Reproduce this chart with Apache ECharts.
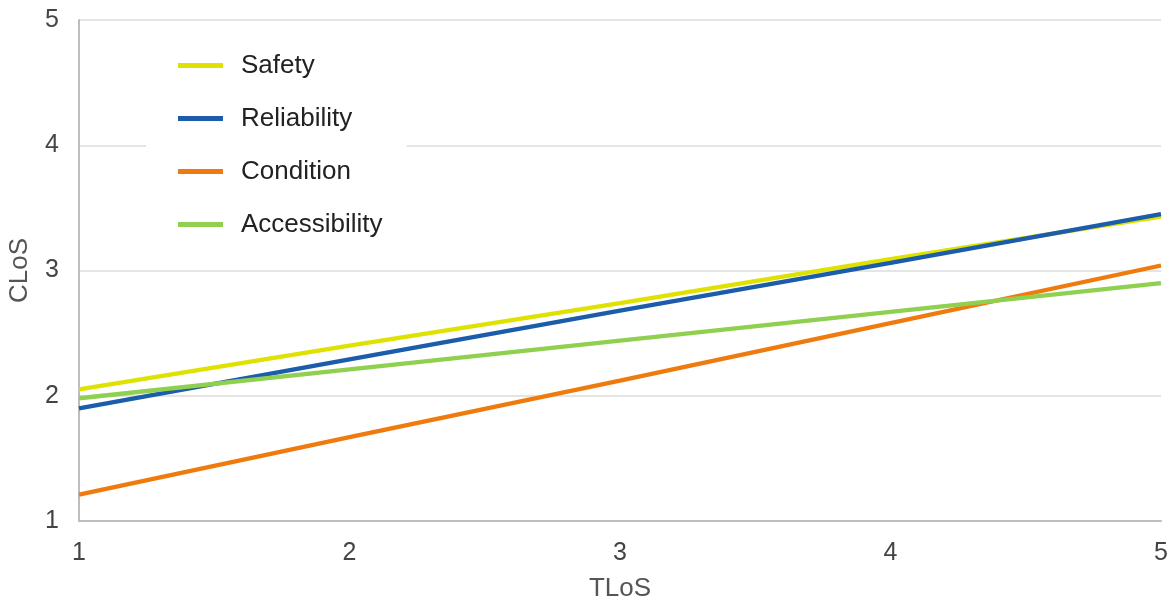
<!DOCTYPE html>
<html>
<head>
<meta charset="utf-8">
<script src="https://cdn.jsdelivr.net/npm/echarts@6/dist/echarts.min.js"></script>
<style>
  html, body { margin: 0; padding: 0; background: #fff; }
  #chart { width: 1172px; height: 601px; }
</style>
</head>
<body>
<div id="chart"></div>
<script>
// TLoS positions along the x axis
const tlos = [1, 2, 3, 4, 5];

// CLoS values for each asset criterion
const safety        = [2.05, 2.40, 2.74, 3.09, 3.43];
const reliability   = [1.90, 2.29, 2.68, 3.06, 3.45];
const condition     = [1.21, 1.67, 2.12, 2.58, 3.04];
const accessibility = [1.98, 2.21, 2.44, 2.67, 2.90];

const seriesNames  = ['Safety', 'Reliability', 'Condition', 'Accessibility'];
const seriesValues = [safety, reliability, condition, accessibility];
const seriesColors = ['#dfe200', '#1b5cab', '#ef7b0f', '#90d050'];

const font = 'Arial, "Liberation Sans", sans-serif';

const chart = echarts.init(document.getElementById('chart'), null, { renderer: 'canvas' });

chart.setOption({
  animation: false,
  backgroundColor: '#ffffff',
  grid: { left: 79, right: 11, top: 20, bottom: 80, containLabel: false, outerBoundsMode: 'none' },
  legend: {
    orient: 'vertical',
    left: 146,
    top: 33,
    padding: [19, 24, 19, 32],
    backgroundColor: '#ffffff',
    itemWidth: 45,
    itemHeight: 5,
    itemGap: 26,
    icon: 'rect',
    data: seriesNames,
    textStyle: { fontFamily: font, fontSize: 26, color: '#222', lineHeight: 27, padding: [0, 0, 0, 13] }
  },
  xAxis: {
    type: 'value',
    min: 1,
    max: 5,
    interval: 1,
    name: 'TLoS',
    nameLocation: 'middle',
    nameGap: 55,
    nameTextStyle: { fontFamily: font, fontSize: 26, color: '#555' },
    axisLine: { show: true, lineStyle: { color: '#bdbdbd', width: 2 } },
    axisTick: { show: false },
    splitLine: { show: false },
    axisLabel: { fontFamily: font, fontSize: 25, color: '#444', margin: 20 }
  },
  yAxis: {
    type: 'value',
    min: 1,
    max: 5,
    interval: 1,
    name: 'CLoS',
    nameLocation: 'middle',
    nameGap: 46,
    nameTextStyle: { fontFamily: font, fontSize: 26, color: '#555' },
    axisLine: { show: true, lineStyle: { color: '#bdbdbd', width: 2 } },
    axisTick: { show: false },
    splitLine: { show: true, lineStyle: { color: '#dcdcdc', width: 1.5 } },
    axisLabel: { fontFamily: font, fontSize: 25, color: '#444', margin: 20, padding: [4, 0, 0, 0] }
  },
  series: seriesNames.map((name, i) => ({
    name: name,
    type: 'line',
    data: tlos.map((x, j) => [x, seriesValues[i][j]]),
    showSymbol: false,
    symbol: 'none',
    color: seriesColors[i],
    lineStyle: { width: 4.3, color: seriesColors[i] },
    z: 2 + i
  }))
});
</script>
</body>
</html>
